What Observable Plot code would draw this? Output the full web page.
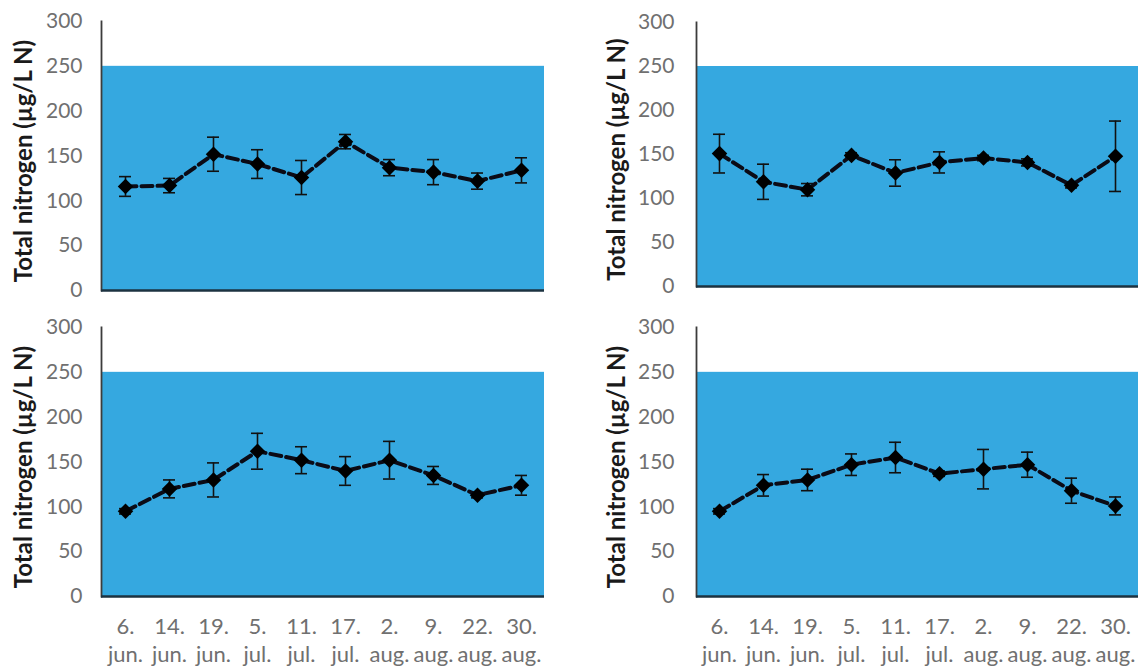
<!DOCTYPE html>
<html><head><meta charset="utf-8">
<script src="https://cdn.jsdelivr.net/npm/d3@7"></script>
<script src="https://cdn.jsdelivr.net/npm/@observablehq/plot@0.6"></script>
<style>
html,body{margin:0;padding:0;background:#fff;}
#chart{position:relative;width:1138px;height:668px;overflow:hidden;background:#fff;}
.panel{position:absolute;}
.panel svg{overflow:visible;display:block;}
</style></head><body><div id="chart"></div>
<script>
// Sampling dates (x categories)
const dayLabels = ["6.", "14.", "19.", "5.", "11.", "17.", "2.", "9.", "22.", "30."];
const monthLabels = ["jun.", "jun.", "jun.", "jul.", "jul.", "jul.", "aug.", "aug.", "aug.", "aug."];
const yTicks = [0, 50, 100, 150, 200, 250, 300];
const threshold = [250];
const yLabel = "Total nitrogen (µg/L N)";

// Panel A (top-left)
const meanA = [116, 117, 152, 141, 126, 166, 137, 132, 122, 134];
const errA  = [11, 8, 19, 16, 19, 8, 9, 14, 9, 14];
// Panel B (top-right)
const meanB = [151, 119, 110, 149, 129, 141, 146, 141, 115, 148];
const errB  = [22, 20, 7, 3, 15, 12, 3, 4, 3, 40];
// Panel C (bottom-left)
const meanC = [95, 120, 130, 162, 152, 140, 152, 135, 113, 124];
const errC  = [3, 10, 19, 20, 15, 16, 21, 10, 3, 11];
// Panel D (bottom-right)
const meanD = [95, 124, 130, 147, 155, 137, 142, 147, 118, 101];
const errD  = [3, 12, 12, 12, 17, 3, 22, 14, 14, 10];

const dates = dayLabels.map((d, i) => d + " " + monthLabels[i]);

function panel(mean, err, o) {
  const rows = dates.map((d, i) => ({date: d, mean: mean[i], err: err[i]}));
  const marks = [
    Plot.rect(threshold, {y1: 0, y2: d => d, fill: "#35a8e0"}),
    Plot.frame({anchor: "left", stroke: "#3c3c3c", strokeWidth: 1.8}),
    Plot.ruleY([0], {stroke: "#1c3240", strokeWidth: 2.6}),
    Plot.ruleX(rows, {x: "date", y1: d => d.mean - d.err, y2: d => d.mean + d.err, stroke: "#111", strokeWidth: 1.6}),
    Plot.tickY(rows, {x: "date", y: d => d.mean + d.err, insetLeft: 16, insetRight: 16, stroke: "#111", strokeWidth: 1.6}),
    Plot.tickY(rows, {x: "date", y: d => d.mean - d.err, insetLeft: 16, insetRight: 16, stroke: "#111", strokeWidth: 1.6}),
    Plot.line(rows, {x: "date", y: "mean", stroke: "#0b0b16", strokeWidth: 4, strokeDasharray: "11,5"}),
    Plot.dot(rows, {x: "date", y: "mean", symbol: "diamond2", r: 7, fill: "#000", stroke: "none"}),
    // y tick labels
    Plot.text(yTicks, {y: d => d, text: d => String(d), frameAnchor: "left", textAnchor: "end",
      dx: o.tickDx, fontSize: 21, fill: "#707070"}),
    // y axis title
    Plot.text([yLabel], {frameAnchor: "left", textAnchor: "middle", lineAnchor: "middle", rotate: -90,
      dx: o.titleDx, dy: 5, fontSize: 24, fontWeight: "bold", fill: "#1a1a1a"})
  ];
  if (o.xLabels) {
    marks.push(Plot.axisX({tickSize: 0, tickPadding: 22, fontSize: 22, label: null,
      tickFormat: d => dayLabels[dates.indexOf(d)]}));
    marks.push(Plot.axisX({tickSize: 0, tickPadding: 50, fontSize: 22, label: null,
      tickFormat: d => monthLabels[dates.indexOf(d)]}));
  }
  const svg = Plot.plot({
    width: o.width, height: o.height,
    marginLeft: o.ml, marginRight: o.mr, marginTop: o.mt, marginBottom: o.mb,
    style: {fontFamily: "Lato, 'Open Sans', sans-serif", color: "#707070", background: "transparent"},
    x: {type: "band", domain: dates, padding: 0, axis: null},
    y: {domain: [0, 300], axis: null},
    marks
  });
  const div = document.createElement("div");
  div.className = "panel";
  div.style.left = o.left + "px";
  div.style.top = o.top + "px";
  div.appendChild(svg);
  document.getElementById("chart").appendChild(div);
}

panel(meanA, errA, {left: 0, top: 0, width: 570, height: 300, ml: 101, mr: 26, mt: 21, mb: 10, tickDx: -19, titleDx: -77});
panel(meanB, errB, {left: 570, top: 0, width: 568, height: 300, ml: 126, mr: 0, mt: 22, mb: 14, tickDx: -22, titleDx: -79});
panel(meanC, errC, {left: 0, top: 300, width: 570, height: 368, ml: 101, mr: 26, mt: 27, mb: 72, xLabels: true, tickDx: -19, titleDx: -77});
panel(meanD, errD, {left: 570, top: 300, width: 568, height: 368, ml: 126, mr: 0, mt: 27, mb: 72, xLabels: true, tickDx: -22, titleDx: -79});
</script></body></html>
